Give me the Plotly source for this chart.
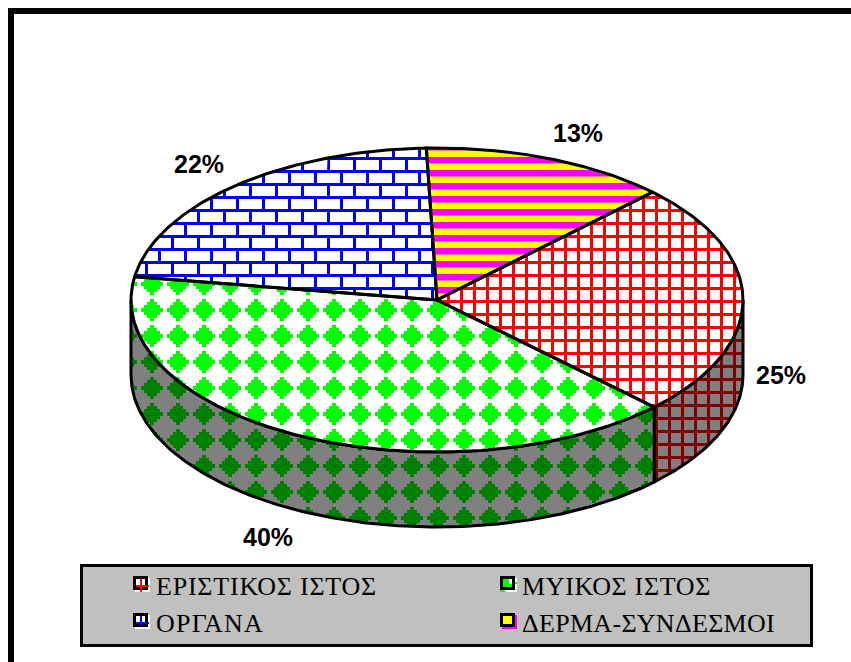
import json
import numpy as np
import plotly.graph_objects as go

# --- data ---
categories = ["ΕΡΙΣΤΙΚΟΣ ΙΣΤΟΣ", "ΜΥΙΚΟΣ ΙΣΤΟΣ", "ΟΡΓΑΝΑ", "ΔΕΡΜΑ-ΣΥΝΔΕΣΜΟΙ"]
values = [25, 40, 22, 13]
percent_labels = ["25%", "40%", "22%", "13%"]

# --- geometry of the tilted pie, in page pixels ---
CX, CY, RX, RY, DEPTH = 437.0, 300.0, 306.0, 152.0, 75.0
START_DEG = 44.8
W, H = 851, 662


def ell(t_deg, dy=0.0):
    t = np.radians(t_deg)
    return CX + RX * np.sin(t), CY - RY * np.cos(t) + dy


def arc(a, b, dy=0.0):
    n = max(int(abs(b - a) * 1.5), 2)
    x, y = ell(np.linspace(a, b, n), dy)
    return list(map(float, x)), list(map(float, y))


def clip_rect(poly, x0, y0, x1, y1):
    """Sutherland-Hodgman: clip a polygon to an axis-aligned rectangle."""
    edges = [
        (lambda p: p[0] >= x0, lambda p, q: (x0, p[1] + (q[1] - p[1]) * (x0 - p[0]) / (q[0] - p[0]))),
        (lambda p: p[0] <= x1, lambda p, q: (x1, p[1] + (q[1] - p[1]) * (x1 - p[0]) / (q[0] - p[0]))),
        (lambda p: p[1] >= y0, lambda p, q: (p[0] + (q[0] - p[0]) * (y0 - p[1]) / (q[1] - p[1]), y0)),
        (lambda p: p[1] <= y1, lambda p, q: (p[0] + (q[0] - p[0]) * (y1 - p[1]) / (q[1] - p[1]), y1)),
    ]
    out = poly
    for inside, cross in edges:
        src, out = out, []
        for i, p in enumerate(src):
            q = src[i - 1]
            if inside(p):
                if not inside(q):
                    out.append(cross(q, p))
                out.append(p)
            elif inside(q):
                out.append(cross(q, p))
        if not out:
            return []
    return out


def pattern_xy(poly, rects):
    xs, ys = [], []
    px0, px1 = min(p[0] for p in poly), max(p[0] for p in poly)
    py0, py1 = min(p[1] for p in poly), max(p[1] for p in poly)
    for (a, b, c, d) in rects:
        if c < px0 or a > px1 or d < py0 or b > py1:
            continue
        res = clip_rect(poly, a, b, c, d)
        if res:
            xs += [p[0] for p in res] + [res[0][0], None]
            ys += [p[1] for p in res] + [res[0][1], None]
    return xs, ys


def grid_rects():
    r = []
    for x in range(6, W, 13):
        r.append((x - 1, 0, x + 2, H))
    for y in range(2, H, 13):
        r.append((0, y - 1, W, y + 2))
    return r


def diamond_rects():
    r = []
    for cx in range(22, W, 26):
        for cy in range(24, H, 26):
            for hw, hh in [(11, 2), (8, 5), (5, 8), (2, 11)]:
                r.append((cx - hw, cy - hh, cx + hw, cy + hh))
    return r


def brick_rects():
    r = []
    for k, y in enumerate(range(2, H, 13)):
        r.append((0, y - 1, W, y + 2))
        off = 3 if k % 2 == 1 else 16
        for x in range(off, W, 26):
            r.append((x - 1, y, x + 2, y + 13))
    return r


def stripe_rects():
    return [(0, y, W, y + 6.5) for y in np.arange(157 - 130, H, 13.0)]


def poly_trace(xs, ys, color, name=None, line=None):
    return go.Scatter(
        x=xs, y=ys, mode="lines", fill="toself", fillcolor=color,
        line=dict(color=line or color, width=3 if line else 0),
        hoverinfo="skip" if name is None else "name", name=name or "",
        showlegend=False,
    )


styles = [
    dict(bg="#FFFFFF", fg="#FF0000", wall_fg="#800000", rects=grid_rects()),
    dict(bg="#FFFFFF", fg="#00FF00", wall_fg="#008000", rects=diamond_rects()),
    dict(bg="#FFFFFF", fg="#0000FF", wall_fg="#000080", rects=brick_rects()),
    dict(bg="#FFFF00", fg="#FF00FF", wall_fg="#800080", rects=stripe_rects()),
]

fig = go.Figure()

# slice angles from the values
shares = np.array(values, dtype=float) / sum(values) * 360.0
ends = START_DEG + np.cumsum(shares)
starts = ends - shares

WALL_GRAY = "#808080"
# side wall first
for i, (a, b) in enumerate(zip(starts, ends)):
    lo, hi = max(a, 90.0), min(b, 270.0)
    if hi <= lo:
        continue
    xt, yt = arc(lo, hi)
    xb, yb = arc(hi, lo, DEPTH)
    poly = list(zip(xt + xb, yt + yb))
    xs, ys = [p[0] for p in poly] + [poly[0][0]], [p[1] for p in poly] + [poly[0][1]]
    fig.add_trace(poly_trace(xs, ys, WALL_GRAY))
    px, py = pattern_xy(poly, styles[i]["rects"])
    fig.add_trace(poly_trace(px, py, styles[i]["wall_fg"]))
    fig.add_trace(go.Scatter(x=xs, y=ys, mode="lines", line=dict(color="#000000", width=3),
                             hoverinfo="skip", showlegend=False))

# top face
for i, (a, b) in enumerate(zip(starts, ends)):
    xa, ya = arc(a, b)
    poly = [(CX, CY)] + list(zip(xa, ya))
    xs, ys = [p[0] for p in poly] + [CX], [p[1] for p in poly] + [CY]
    fig.add_trace(poly_trace(xs, ys, styles[i]["bg"], name=categories[i]))
    px, py = pattern_xy(poly, styles[i]["rects"])
    fig.add_trace(poly_trace(px, py, styles[i]["fg"]))
for i, (a, b) in enumerate(zip(starts, ends)):
    xa, ya = arc(a, b)
    fig.add_trace(go.Scatter(x=[CX] + xa + [CX], y=[CY] + ya + [CY], mode="lines",
                             line=dict(color="#000000", width=3),
                             hoverinfo="skip", showlegend=False))

# percentage labels
label_pos = [(781, 375), (268, 537), (199, 164), (578, 133)]
annotations = [
    dict(x=x, y=y, text=t, showarrow=False, xref="x", yref="y", xanchor="center", yanchor="middle",
         font=dict(family="Liberation Sans", size=25, color="#000000", weight="bold"))
    for (x, y), t in zip(label_pos, percent_labels)
]

# legend box
shapes = [
    dict(type="rect", x0=8, y0=8, x1=W, y1=14, fillcolor="#000000", line_width=0),
    dict(type="rect", x0=8, y0=8, x1=14, y1=H, fillcolor="#000000", line_width=0),
    dict(type="rect", x0=81.5, y0=565.5, x1=811.5, y1=645.5, fillcolor="#C0C0C0",
         line=dict(color="#000000", width=3)),
]
legend_pos = [(133, 576), (500, 576), (133, 613), (500, 613)]
text_x = [154, 520, 154, 520]
for i, (sx, sy) in enumerate(legend_pos):
    st = styles[i]
    rect = lambda a, b, c, d, col: shapes.append(
        dict(type="rect", x0=sx + a, y0=sy + b, x1=sx + c, y1=sy + d, fillcolor=col, line_width=0))
    rect(2, 2, 17, 16, "#FFFFFF" if i < 3 else "#FF00FF")
    rect(0, 0, 15, 14, "#000000")
    rect(3, 3, 12, 11, st["bg"])
    if i == 0 or i == 2:
        rect(7, 3, 9, 16 if i == 0 else 13, st["fg"])
        rect(3, 9, 16, 11, st["fg"])
    elif i == 1:
        rect(3, 3, 9, 11, st["fg"])
        rect(3, 8, 12, 11, st["fg"])
        rect(0, 14, 5, 16, st["fg"])
        rect(15, 6, 17, 8, st["fg"])
    annotations.append(dict(
        x=text_x[i], y=sy + 10, text=categories[i], showarrow=False, xref="x", yref="y",
        xanchor="left", yanchor="middle",
        font=dict(family="Liberation Serif", size=26, color="#000000")))

fig.update_layout(
    width=W, height=H, margin=dict(l=0, r=0, t=0, b=0),
    paper_bgcolor="#FFFFFF", plot_bgcolor="#FFFFFF", showlegend=False,
    xaxis=dict(range=[0, W], visible=False, fixedrange=True),
    yaxis=dict(range=[H, 0], visible=False, fixedrange=True),
    shapes=shapes, annotations=annotations,
)
widths = dict(zip(categories, [221, 189, 108, 253]))
post = """
document.body.style.margin='0';
var widths = %s;
document.querySelectorAll('.annotation-text').forEach(function(t){
  var target = widths[t.textContent];
  if (!target) return;
  var w = t.getComputedTextLength();
  var x = parseFloat(t.getAttribute('x')) || 0;
  t.setAttribute('x', x - w / 2);
  t.setAttribute('text-anchor', 'start');
  t.style.textAnchor = 'start';
  t.style.letterSpacing = ((target - w) / t.textContent.length) + 'px';
});
""" % json.dumps(widths, ensure_ascii=False)
fig.write_html("out.html", config={"displayModeBar": False}, post_script=post)
